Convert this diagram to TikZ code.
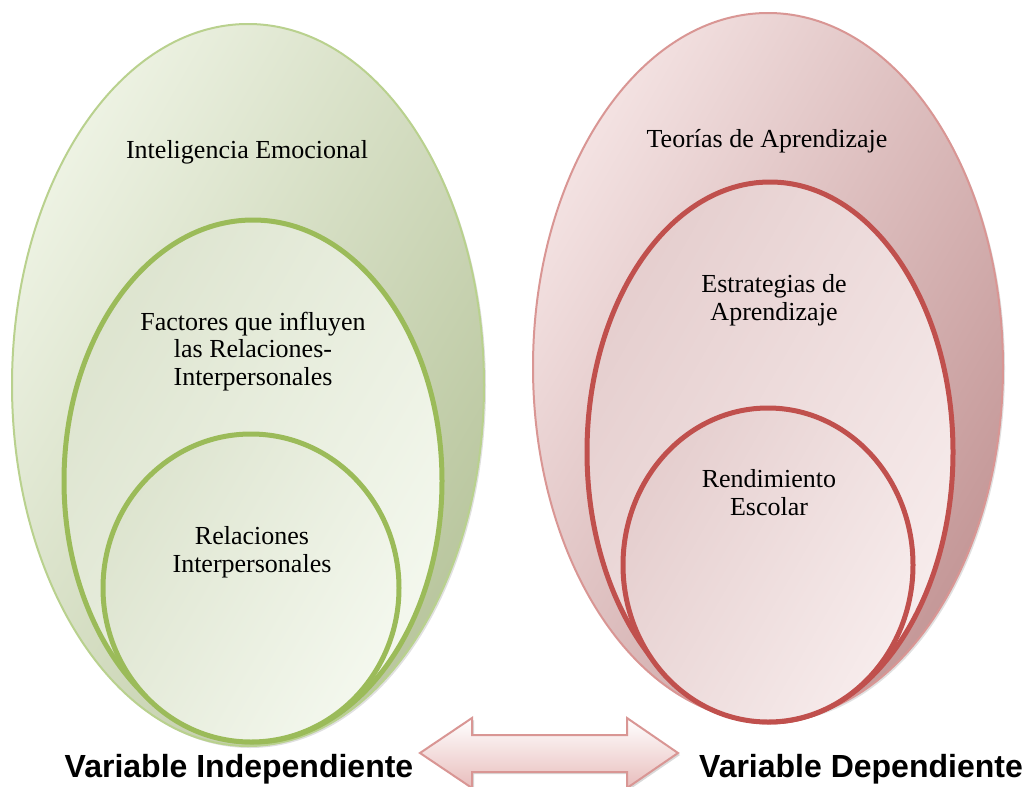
\documentclass[tikz,border=0pt]{standalone}
\usepackage{fontspec}
\setmainfont{Liberation Serif}
\newfontfamily\labfont{Liberation Sans}
\usetikzlibrary{shapes.geometric}
\definecolor{gOutA}{HTML}{EEF3E4}
\definecolor{gOutB}{HTML}{B9C69E}
\definecolor{gRim}{HTML}{B9D18E}
\definecolor{gLine}{HTML}{9BBB59}
\definecolor{gInA}{HTML}{F4F8EE}
\definecolor{gInB}{HTML}{DDE4CF}
\definecolor{rOutA}{HTML}{F4E3E3}
\definecolor{rOutB}{HTML}{C49797}
\definecolor{rRim}{HTML}{D99694}
\definecolor{rLine}{HTML}{C0504D}
\definecolor{rInA}{HTML}{F7ECEC}
\definecolor{rInB}{HTML}{E5CECE}
\definecolor{arrA}{HTML}{FFFFFF}
\definecolor{arrB}{HTML}{E8BDBC}
\tikzset{
  oval/.style={ellipse, inner sep=0pt},
  outerG/.style={oval, draw=gRim, line width=2pt, left color=gOutA, right color=gOutB, shading angle=60},
  outerR/.style={oval, draw=rRim, line width=2pt, left color=rOutA, right color=rOutB, shading angle=60},
  innerG/.style={oval, draw=gLine, line width=5pt, left color=gInA, right color=gInB, shading angle=-120},
  innerR/.style={oval, draw=rLine, line width=5pt, left color=rInA, right color=rInB, shading angle=-120},
  shadowoval/.style={oval, fill=black, opacity=0.12},
  txt/.style={font=\fontsize{26}{27.5}\selectfont, align=center, inner sep=0pt, anchor=base},
  lab/.style={font=\labfont\bfseries\fontsize{32}{36}\selectfont, inner sep=0pt, anchor=base},
}
\begin{document}
\begin{tikzpicture}[x=1pt,y=-1pt]
\useasboundingbox (0,0) rectangle (1028,787);
% left group
\node[shadowoval, minimum width=472pt, minimum height=722pt] (gS) at (250,387) {};
\node[outerG, minimum width=472pt, minimum height=722pt] (gO) at (248,385) {};
\node[innerG, minimum width=378pt, minimum height=522pt] (gM) at (253,481) {};
\node[innerG, minimum width=296pt, minimum height=308pt] (gI) at (251,588) {};
% right group
\node[shadowoval, minimum width=470pt, minimum height=708pt] (rS) at (770,369) {};
\node[outerR, minimum width=470pt, minimum height=708pt] (rO) at (768,367) {};
\node[innerR, minimum width=366pt, minimum height=540pt] (rM) at (770,452) {};
\node[innerR, minimum width=290pt, minimum height=314pt] (rI) at (768,565) {};
% texts (base = last line)
\node[txt] (t1) at (247,158) {Inteligencia Emocional};
\node[txt] (t2) at (253,385) {Factores que influyen\\las Relaciones-\\Interpersonales};
\node[txt] (t3) at (252,572) {Relaciones\\Interpersonales};
\node[txt] (t4) at (767,147) {Teorías de Aprendizaje};
\node[txt] (t5) at (774,320) {Estrategias de\\Aprendizaje};
\node[txt] (t6) at (769,515) {Rendimiento\\Escolar};
% arrow
\fill[black, opacity=0.15] (422,755) -- (474,720) -- (474,737) -- (629,737) -- (629,720) -- (680,755) -- (629,790) -- (629,774) -- (474,774) -- (474,790) -- cycle;
\path[draw=rRim, line width=2pt, top color=arrA, bottom color=arrB] (420,753) -- (472,718) -- (472,735) -- (627,735) -- (627,718) -- (678,753) -- (627,788) -- (627,772) -- (472,772) -- (472,788) -- cycle;
% labels
\node[lab] (l1) at (239,777) {Variable Independiente};
\node[lab] (l2) at (861,777) {Variable Dependiente};
\end{tikzpicture}
\end{document}
